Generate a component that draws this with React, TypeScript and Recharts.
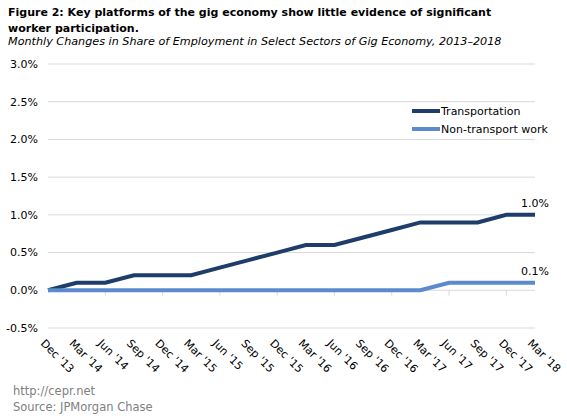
import React from 'react';
import {
  LineChart,
  Line,
  XAxis,
  YAxis,
  CartesianGrid,
  ReferenceDot,
  ReferenceLine,
} from 'recharts';

const categories = [
  "Dec '13", "Mar '14", "Jun '14", "Sep '14", "Dec '14", "Mar '15",
  "Jun '15", "Sep '15", "Dec '15", "Mar '16", "Jun '16", "Sep '16",
  "Dec '16", "Mar '17", "Jun '17", "Sep '17", "Dec '17", "Mar '18",
];
const transportation = [0, 0.1, 0.1, 0.2, 0.2, 0.2, 0.3, 0.4, 0.5, 0.6, 0.6, 0.7, 0.8, 0.9, 0.9, 0.9, 1.0, 1.0];
const nonTransport = [0, 0, 0, 0, 0, 0, 0, 0, 0, 0, 0, 0, 0, 0, 0.1, 0.1, 0.1, 0.1];
const yTicks = [-0.5, 0, 0.5, 1.0, 1.5, 2.0, 2.5, 3.0];
const minorTickCategories = categories.filter((_, i) => i > 0 && i % 2 === 0 && i < categories.length - 1);

const DARK = '#1f3d6b';
const LIGHT = '#5b8bcc';
const FONT = '"DejaVu Sans", Verdana, sans-serif';

const data = categories.map((c, i) => ({
  cat: c,
  transportation: transportation[i],
  nonTransport: nonTransport[i],
}));

const XTick = (props: any) => {
  const { x, y, payload } = props;
  return (
    <g transform={`translate(${x - 8},${y + 16})`}>
      <text transform="rotate(45)" textAnchor="start" fontSize={11} fill="#000" fontFamily={FONT}>
        {payload.value}
      </text>
    </g>
  );
};

const fmt = (v: number) => `${v.toFixed(1)}%`;

const LegendBox = () => (
  <div style={{ position: 'absolute', left: 412, top: 102, fontFamily: FONT, fontSize: 11, color: '#000' }}>
    {[
      { name: 'Transportation', color: DARK },
      { name: 'Non-transport work', color: LIGHT },
    ].map((s) => (
      <div key={s.name} style={{ display: 'flex', alignItems: 'center', height: 18 }}>
        <div style={{ width: 28, height: 4, background: s.color, marginRight: 1 }} />
        <span>{s.name}</span>
      </div>
    ))}
  </div>
);

export default function App() {
  const last = categories.length - 1;
  return (
    <div style={{ position: 'absolute', left: 0, top: 0, width: 567, height: 420, background: '#fff', fontFamily: FONT, overflow: 'hidden' }}>
      <div style={{ position: 'absolute', left: 8, top: 5, fontSize: 11, fontWeight: 'bold', lineHeight: '16px', whiteSpace: 'nowrap', color: '#000' }}>
        <div>Figure 2: Key platforms of the gig economy show little evidence of significant</div>
        <div>worker participation.</div>
      </div>
      <div style={{ position: 'absolute', left: 8, top: 35, fontSize: 11.2, fontStyle: 'italic', lineHeight: '14px', whiteSpace: 'nowrap', color: '#000' }}>
        Monthly Changes in Share of Employment in Select Sectors of Gig Economy, 2013–2018
      </div>
      <div style={{ position: 'absolute', left: 0, top: 0 }}>
        <LineChart width={567} height={420} data={data} margin={{ top: 64, right: 32, left: 0, bottom: 0 }}>
          <CartesianGrid vertical={false} stroke="#d9d9d9" />
          <XAxis
            dataKey="cat"
            height={92}
            axisLine={false}
            tickLine={false}
            tickSize={0}
            tickMargin={0}
            interval={0}
            tick={<XTick />}
          />
          <YAxis
            width={48}
            domain={[-0.5, 3]}
            ticks={yTicks}
            tickFormatter={fmt}
            axisLine={false}
            tickLine={false}
            tickSize={0}
            tickMargin={10}
            tick={{ fontSize: 11, fill: '#000', fontFamily: FONT }}
            interval={0}
          />
          {minorTickCategories.map((c) => (
            <ReferenceLine
              key={c}
              segment={[{ x: c, y: 0 }, { x: c, y: -0.07 }]}
              stroke="#d9d9d9"
              ifOverflow="visible"
            />
          ))}
          <Line
            type="linear"
            dataKey="transportation"
            stroke={DARK}
            strokeWidth={4}
            dot={false}
            isAnimationActive={false}
          />
          <Line
            type="linear"
            dataKey="nonTransport"
            stroke={LIGHT}
            strokeWidth={4}
            dot={false}
            isAnimationActive={false}
          />
          <ReferenceDot
            x={categories[last]}
            y={transportation[last]}
            r={0}
            fill="none"
            stroke="none"
            label={{ value: fmt(transportation[last]), position: 'top', offset: 8, fontSize: 11, fill: '#000', fontFamily: FONT }}
          />
          <ReferenceDot
            x={categories[last]}
            y={nonTransport[last]}
            r={0}
            fill="none"
            stroke="none"
            label={{ value: fmt(nonTransport[last]), position: 'top', offset: 8, fontSize: 11, fill: '#000', fontFamily: FONT }}
          />
        </LineChart>
      </div>
      <LegendBox />
      <div style={{ position: 'absolute', left: 13, top: 383, fontSize: 11.5, lineHeight: '16px', color: '#808080' }}>
        <div>http://cepr.net</div>
        <div>Source: JPMorgan Chase</div>
      </div>
    </div>
  );
}
